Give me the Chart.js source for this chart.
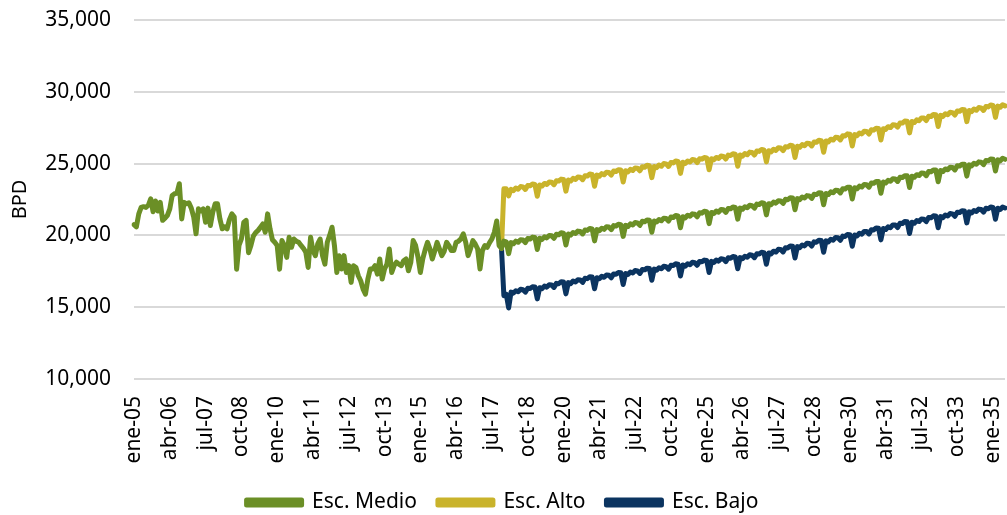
<!DOCTYPE html>
<html lang="es">
<head>
<meta charset="utf-8">
<script src="https://cdn.jsdelivr.net/npm/chart.js@4.4.1/dist/chart.umd.min.js"></script>
<style>
  html, body { margin: 0; padding: 0; background: #fff; }
</style>
</head>
<body>
<canvas id="chart" width="1007" height="515"></canvas>
<script>
// Etiquetas mensuales ene-05 .. jun-35
const meses = ['ene', 'feb', 'mar', 'abr', 'may', 'jun', 'jul', 'ago', 'sep', 'oct', 'nov', 'dic'];
const anioInicio = 2005;
const totalMeses = 366;
const pasoEtiqueta = 15;

// Histórico (ene-05 .. nov-17)
const medioHist = [
  20750, 20600, 21500, 21950, 22000, 21950, 22100, 22550, 21650, 22400, 21700, 22300,
  21050, 21200, 21400, 21850, 22780, 22900, 22950, 23600, 21150, 22300, 22200, 22270,
  21900, 21300, 20110, 21850, 21700, 21850, 20920, 21900, 20690, 21600, 22200, 22200,
  21150, 20460, 20600, 20460, 21100, 21500, 21300, 17650, 19300, 19750, 20900, 21050,
  18800, 19300, 19950, 20200, 20350, 20570, 20800, 20220, 21500, 20460, 19700, 19520,
  19300, 17650, 19640, 19300, 18470, 19870, 19170, 19750, 19600, 19520, 19300, 19100,
  18820, 17770, 19870, 18940, 18590, 19410, 19750, 18600, 18000, 19520, 20000, 20570,
  19290, 17420, 18590, 17660, 18590, 17420, 17890, 16730, 17890, 17770, 17190, 16840,
  16260, 15910, 16960, 17660, 17660, 17890, 17300, 18360, 16960, 17660, 18010, 19060,
  17420, 17890, 18130, 18000, 17890, 18240, 18360, 17540, 18130, 19640, 19300, 18500,
  17420, 18360, 19000, 19520, 19060, 18360, 18900, 19520, 19060, 18590, 18900, 19520,
  19290, 18940, 18940, 19520, 19600, 19760, 20110, 19520, 18590, 19060, 19640, 19400,
  19060, 17660, 18940, 19290, 19170, 19500, 19760, 20220, 21000, 19290, 19100
];

// Proyección Esc. Medio (dic-17 .. jun-35)
const medioProy = [
  19600,
  19550, 18730, 19500, 19420, 19600, 19520, 19700, 19680, 19500, 19780, 19750, 19880,
  19850, 19020, 19800, 19720, 19900, 19830, 20000, 19970, 19800, 20080, 20050, 20180,
  20150, 19330, 20100, 20020, 20200, 20130, 20300, 20270, 20100, 20380, 20350, 20480,
  20450, 19620, 20400, 20330, 20500, 20420, 20600, 20580, 20400, 20680, 20650, 20780,
  20750, 19930, 20700, 20620, 20800, 20730, 20900, 20870, 20700, 20980, 20950, 21080,
  21050, 20220, 21000, 20930, 21100, 21020, 21200, 21180, 21000, 21280, 21250, 21380,
  21350, 20530, 21300, 21220, 21400, 21330, 21500, 21470, 21300, 21580, 21550, 21680,
  21650, 20820, 21600, 21530, 21700, 21620, 21800, 21780, 21600, 21880, 21850, 21980,
  21950, 21130, 21900, 21820, 22000, 21930, 22100, 22070, 21900, 22180, 22150, 22280,
  22250, 21430, 22210, 22140, 22320, 22250, 22420, 22400, 22230, 22510, 22490, 22620,
  22600, 21780, 22560, 22490, 22670, 22600, 22770, 22750, 22580, 22860, 22840, 22970,
  22950, 22130, 22920, 22850, 23030, 22970, 23150, 23130, 22960, 23250, 23230, 23360,
  23350, 22530, 23320, 23250, 23430, 23370, 23550, 23530, 23360, 23650, 23630, 23760,
  23750, 22930, 23720, 23650, 23830, 23770, 23950, 23930, 23760, 24050, 24030, 24160,
  24150, 23330, 24120, 24050, 24230, 24170, 24350, 24330, 24160, 24450, 24430, 24560,
  24550, 23730, 24520, 24450, 24630, 24570, 24750, 24730, 24560, 24850, 24830, 24960,
  24950, 24130, 24910, 24840, 25020, 24950, 25120, 25100, 24930, 25210, 25190, 25320,
  25300, 24480, 25260, 25190, 25370, 25300
];

// Esc. Alto (nov-17 .. jun-35)
const altoProy = [
  19100, 23250,
  23250, 22750, 23200, 23120, 23300, 23220, 23400, 23380, 23200, 23480, 23450, 23580,
  23550, 22730, 23510, 23440, 23620, 23550, 23720, 23700, 23530, 23810, 23790, 23920,
  23900, 23080, 23860, 23790, 23970, 23900, 24070, 24050, 23880, 24160, 24140, 24270,
  24250, 23420, 24200, 24120, 24300, 24220, 24400, 24380, 24200, 24480, 24450, 24580,
  24550, 23720, 24500, 24420, 24600, 24520, 24700, 24680, 24500, 24780, 24750, 24880,
  24850, 24020, 24800, 24720, 24900, 24820, 25000, 24980, 24800, 25080, 25050, 25180,
  25150, 24320, 25090, 25010, 25180, 25110, 25280, 25250, 25070, 25340, 25310, 25430,
  25400, 24570, 25340, 25260, 25430, 25360, 25530, 25500, 25320, 25590, 25560, 25680,
  25650, 24820, 25600, 25520, 25700, 25620, 25800, 25780, 25600, 25880, 25850, 25980,
  25950, 25120, 25900, 25820, 26000, 25920, 26100, 26080, 25900, 26180, 26150, 26280,
  26250, 25430, 26210, 26140, 26320, 26250, 26420, 26400, 26230, 26510, 26490, 26620,
  26600, 25790, 26580, 26510, 26700, 26640, 26830, 26820, 26650, 26940, 26930, 27070,
  27050, 26230, 27020, 26950, 27130, 27070, 27250, 27230, 27060, 27350, 27330, 27460,
  27450, 26640, 27430, 27380, 27570, 27510, 27700, 27690, 27540, 27830, 27820, 27960,
  27950, 27140, 27930, 27860, 28050, 27990, 28180, 28170, 28000, 28290, 28280, 28420,
  28400, 27580, 28360, 28290, 28470, 28400, 28570, 28550, 28380, 28660, 28640, 28770,
  28750, 27920, 28700, 28620, 28800, 28720, 28900, 28880, 28700, 28980, 28950, 29080,
  29050, 28220, 29000, 28920, 29100, 29020
];

// Esc. Bajo (nov-17 .. jun-35)
const bajoProy = [
  19100, 15800,
  15900, 14950, 16050, 15980, 16150, 16080, 16250, 16220, 16050, 16320, 16300, 16420,
  16400, 15580, 16360, 16290, 16470, 16400, 16570, 16550, 16380, 16660, 16640, 16770,
  16750, 15930, 16710, 16640, 16820, 16750, 16920, 16900, 16730, 17010, 16990, 17120,
  17100, 16280, 17050, 16980, 17150, 17080, 17250, 17220, 17050, 17320, 17300, 17420,
  17400, 16580, 17350, 17280, 17450, 17380, 17550, 17520, 17350, 17620, 17600, 17720,
  17700, 16880, 17650, 17580, 17750, 17680, 17850, 17820, 17650, 17920, 17900, 18020,
  18000, 17170, 17940, 17860, 18030, 17960, 18130, 18100, 17920, 18190, 18160, 18280,
  18250, 17420, 18190, 18110, 18280, 18210, 18380, 18350, 18170, 18440, 18410, 18530,
  18500, 17680, 18450, 18380, 18550, 18480, 18650, 18620, 18450, 18720, 18700, 18820,
  18800, 17990, 18780, 18710, 18900, 18840, 19030, 19020, 18850, 19140, 19130, 19270,
  19250, 18430, 19220, 19150, 19330, 19270, 19450, 19430, 19260, 19550, 19530, 19660,
  19650, 18830, 19620, 19550, 19730, 19670, 19850, 19830, 19660, 19950, 19930, 20060,
  20050, 19240, 20030, 19960, 20150, 20090, 20280, 20270, 20100, 20390, 20380, 20520,
  20500, 19690, 20480, 20410, 20600, 20540, 20730, 20720, 20550, 20840, 20830, 20970,
  20950, 20130, 20920, 20850, 21030, 20970, 21150, 21130, 20960, 21250, 21230, 21360,
  21350, 20530, 21310, 21240, 21420, 21350, 21520, 21500, 21330, 21610, 21590, 21720,
  21700, 20870, 21640, 21560, 21730, 21660, 21830, 21800, 21620, 21890, 21860, 21980,
  21950, 21120, 21890, 21810, 21980, 21910
];

const etiquetas = [];
for (let i = 0; i < totalMeses; i++) {
  const anio = anioInicio + Math.floor(i / 12);
  etiquetas.push(meses[i % 12] + '-' + String(anio % 100).padStart(2, '0'));
}

const vacio = n => new Array(n).fill(null);
const medio = medioHist.concat(medioProy);
const alto = vacio(totalMeses - altoProy.length).concat(altoProy);
const bajo = vacio(totalMeses - bajoProy.length).concat(bajoProy);

const fuente = { family: '"Noto Sans", "Open Sans", sans-serif', size: 21 };

const serie = (label, data, color) => ({
  label,
  data,
  borderColor: color,
  backgroundColor: color,
  borderWidth: 5,
  pointRadius: 0,
  borderJoinStyle: 'round',
  borderCapStyle: 'round',
  fill: false,
  tension: 0
});

new Chart(document.getElementById('chart'), {
  type: 'line',
  data: {
    labels: etiquetas,
    datasets: [
      serie('Esc. Medio', medio, '#6b8f26'),
      serie('Esc. Alto', alto, '#c9b32b'),
      serie('Esc. Bajo', bajo, '#0b3460')
    ]
  },
  options: {
    responsive: false,
    animation: false,
    devicePixelRatio: 1,
    layout: { padding: { left: 0, right: 2, top: 20, bottom: -8 } },
    plugins: {
      tooltip: { enabled: false },
      legend: {
        position: 'bottom',
        labels: {
          boxWidth: 55,
          boxHeight: 5,
          padding: 21,
          color: '#000',
          font: fuente
        }
      }
    },
    scales: {
      x: {
        type: 'category',
        offset: false,
        grid: { display: false, drawTicks: false },
        border: { display: false },
        ticks: {
          autoSkip: false,
          maxRotation: 90,
          minRotation: 90,
          padding: 17,
          color: '#000',
          font: fuente,
          callback: (v, i) => (i % pasoEtiqueta === 0 ? etiquetas[i] : null)
        },
        afterFit: s => { s.paddingLeft = 0; s.paddingRight = 0; s.height = 92; }
      },
      y: {
        min: 10000,
        max: 35000,
        grid: { color: '#d9d9d9', lineWidth: 2, drawTicks: false },
        border: { display: false },
        ticks: {
          stepSize: 5000,
          padding: 23,
          color: '#000',
          font: fuente,
          callback: v => v.toLocaleString('en-US')
        },
        title: {
          display: true,
          text: 'BPD',
          color: '#000',
          font: { family: fuente.family, size: 20 },
          padding: { top: 8, bottom: 0 }
        },
        afterFit: s => { s.width = 134; s.paddingTop = 0; s.paddingBottom = 0; }
      }
    }
  }
});
</script>
</body>
</html>
